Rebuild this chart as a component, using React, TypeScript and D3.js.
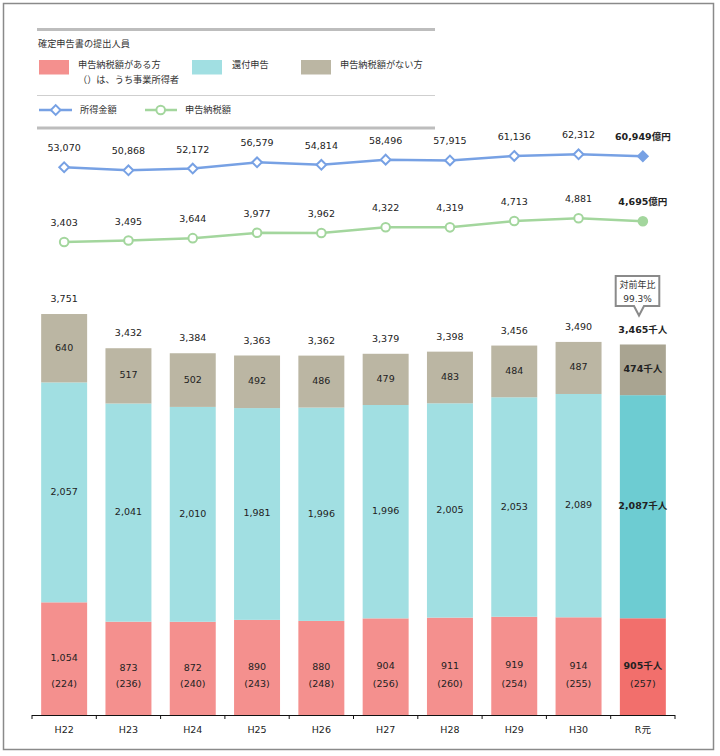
import React from 'react';
import * as d3 from 'd3';

const years = ['H22', 'H23', 'H24', 'H25', 'H26', 'H27', 'H28', 'H29', 'H30', 'R元'];
const taxPayers = [1054, 873, 872, 890, 880, 904, 911, 919, 914, 905];
const business = [224, 236, 240, 243, 248, 256, 260, 254, 255, 257];
const refund = [2057, 2041, 2010, 1981, 1996, 1996, 2005, 2053, 2089, 2087];
const noTax = [640, 517, 502, 492, 486, 479, 483, 484, 487, 474];
const totals = [3751, 3432, 3384, 3363, 3362, 3379, 3398, 3456, 3490, 3465];
const income = [53070, 50868, 52172, 56579, 54814, 58496, 57915, 61136, 62312, 60949];
const taxAmount = [3403, 3495, 3644, 3977, 3962, 4322, 4319, 4713, 4881, 4695];

const NUM = 'DejaVu Sans, Noto Sans CJK JP, sans-serif';
const JP = 'Noto Sans CJK JP, sans-serif';

const colors = {
  red: '#f4908e', redLast: '#f26f6c',
  cyan: '#a1dfe2', cyanLast: '#6dccd2',
  gray: '#bbb6a3', grayLast: '#a9a491',
  blue: '#77a1e4', green: '#a3d69d',
};

const fmt = d3.format(',');

export default function App() {
  const x = d3.scaleBand<string>().domain(years).range([32, 675]).paddingInner(0.285).paddingOuter(0.1425);
  const y = d3.scaleLinear().domain([0, 4000]).range([715, 287.4]);
  const yIncome = d3.scaleLinear().domain([45000, 65000]).range([178.6, 150.5]);
  const yTax = d3.scaleLinear().domain([3000, 5000]).range([248.5, 216.4]);
  const cx = (i: number) => (x(years[i]) as number) + x.bandwidth() / 2;
  const last = years.length - 1;

  const incomeLine = d3.line<number>().x((_, i) => cx(i)).y((d) => yIncome(d));
  const taxLine = d3.line<number>().x((_, i) => cx(i)).y((d) => yTax(d));
  const diamond = d3.symbol().type(d3.symbolDiamond2 || d3.symbolDiamond).size(60);

  const step = x.step();
  const tickXs = d3.range(years.length + 1).map((i) => 32 + i * step);

  return (
    <svg width={720} height={756} style={{ position: 'absolute', left: 0, top: 0, background: '#fff' }}>
      <rect x={0} y={0} width={720} height={756} fill="#fff" />
      <rect x={3.5} y={3.5} width={710} height={746} fill="none" stroke="#8a8a8a" strokeWidth={1.5} />

      {/* Legend */}
      <line x1={37} x2={435} y1={29.5} y2={29.5} stroke="#bdbdbd" strokeWidth={3} />
      <text x={38} y={44} fontFamily={JP} fontSize={9.2} fill="#333" dominantBaseline="middle">確定申告書の提出人員</text>
      <rect x={39} y={60} width={30} height={14.5} fill={colors.red} />
      <text x={78} y={65.5} fontFamily={JP} fontSize={9.2} fill="#333" dominantBaseline="middle">申告納税額がある方</text>
      <text x={78} y={80.5} fontFamily={JP} fontSize={9.2} fill="#333" dominantBaseline="middle">（）は、うち事業所得者</text>
      <rect x={192} y={60} width={30} height={14.5} fill={colors.cyan} />
      <text x={232} y={65.5} fontFamily={JP} fontSize={9.2} fill="#333" dominantBaseline="middle">還付申告</text>
      <rect x={301} y={60} width={30} height={14.5} fill={colors.gray} />
      <text x={340} y={65.5} fontFamily={JP} fontSize={9.2} fill="#333" dominantBaseline="middle">申告納税額がない方</text>
      <line x1={37} x2={435} y1={95.5} y2={95.5} stroke="#cfcfcf" strokeWidth={1} />
      <line x1={39} x2={72} y1={110} y2={110} stroke={colors.blue} strokeWidth={2.5} />
      <path d={diamond() as string} transform="translate(55.7,110)" fill="#fff" stroke={colors.blue} strokeWidth={2} />
      <text x={80} y={110} fontFamily={JP} fontSize={9.2} fill="#333" dominantBaseline="middle">所得金額</text>
      <line x1={145} x2={177} y1={110} y2={110} stroke={colors.green} strokeWidth={2.5} />
      <circle cx={160.7} cy={110} r={4.3} fill="#fff" stroke={colors.green} strokeWidth={2} />
      <text x={185} y={110} fontFamily={JP} fontSize={9.2} fill="#333" dominantBaseline="middle">申告納税額</text>
      <line x1={37} x2={435} y1={128} y2={128} stroke="#bdbdbd" strokeWidth={3} />

      {/* Lines */}
      <path d={incomeLine(income) as string} fill="none" stroke={colors.blue} strokeWidth={2.5} />
      <path d={taxLine(taxAmount) as string} fill="none" stroke={colors.green} strokeWidth={2.5} />
      {income.map((v, i) => (
        <g key={'inc' + i}>
          <path d={diamond() as string} transform={`translate(${cx(i)},${yIncome(v)})`}
            fill={i === last ? colors.blue : '#fff'} stroke={colors.blue} strokeWidth={2} />
          <text x={cx(i)} y={yIncome(v) - 18.5} textAnchor="middle" dominantBaseline="middle"
            fontFamily={NUM} fontSize={9.5} fontWeight={i === last ? 'bold' : 'normal'} fill="#222">
            {fmt(v)}{i === last ? '億円' : ''}
          </text>
        </g>
      ))}
      {taxAmount.map((v, i) => (
        <g key={'tax' + i}>
          <circle cx={cx(i)} cy={yTax(v)} r={4.3}
            fill={i === last ? colors.green : '#fff'} stroke={colors.green} strokeWidth={2} />
          <text x={cx(i)} y={yTax(v) - 18.5} textAnchor="middle" dominantBaseline="middle"
            fontFamily={NUM} fontSize={9.5} fontWeight={i === last ? 'bold' : 'normal'} fill="#222">
            {fmt(v)}{i === last ? '億円' : ''}
          </text>
        </g>
      ))}

      {/* Bars */}
      {years.map((yr, i) => {
        const isLast = i === last;
        const bx = x(yr) as number;
        const bw = x.bandwidth();
        const r0 = 0, r1 = taxPayers[i];
        const c1 = r1 + refund[i];
        const g1 = c1 + noTax[i];
        const w = isLast ? 'bold' : 'normal';
        const suffix = isLast ? '千人' : '';
        return (
          <g key={yr}>
            <rect x={bx} y={y(r1)} width={bw} height={y(r0) - y(r1)} fill={isLast ? colors.redLast : colors.red} />
            <rect x={bx} y={y(c1)} width={bw} height={y(r1) - y(c1)} fill={isLast ? colors.cyanLast : colors.cyan} />
            <rect x={bx} y={y(g1)} width={bw} height={y(c1) - y(g1)} fill={isLast ? colors.grayLast : colors.gray} />
            <text x={cx(i)} y={(y(r0) + y(r1)) / 2} textAnchor="middle" dominantBaseline="middle"
              fontFamily={NUM} fontSize={9.5} fontWeight={w} fill="#222">{fmt(taxPayers[i])}{suffix}</text>
            <text x={cx(i)} y={y(0) - 31} textAnchor="middle" dominantBaseline="middle"
              fontFamily={NUM} fontSize={9.5} fill="#222">({business[i]})</text>
            <text x={cx(i)} y={(y(r1) + y(c1)) / 2} textAnchor="middle" dominantBaseline="middle"
              fontFamily={NUM} fontSize={9.5} fontWeight={w} fill="#222">{fmt(refund[i])}{suffix}</text>
            <text x={cx(i)} y={(y(c1) + y(g1)) / 2} textAnchor="middle" dominantBaseline="middle"
              fontFamily={NUM} fontSize={9.5} fontWeight={w} fill="#222">{fmt(noTax[i])}{suffix}</text>
            <text x={cx(i)} y={y(totals[i]) - 14.3} textAnchor="middle" dominantBaseline="middle"
              fontFamily={NUM} fontSize={9.5} fontWeight={w} fill="#222">{fmt(totals[i])}{suffix}</text>
          </g>
        );
      })}

      {/* Callout */}
      <path d={`M615.7,276 H659.3 V306 H644 L639,315.5 L634,306 H615.7 Z`} fill="#fff" stroke="#8a8a8a" strokeWidth={2} />
      <text x={637.5} y={285.5} textAnchor="middle" dominantBaseline="middle" fontFamily={JP} fontSize={9} fill="#333">対前年比</text>
      <text x={637.5} y={299} textAnchor="middle" dominantBaseline="middle" fontFamily={NUM} fontSize={9} fill="#333">99.3%</text>

      {/* Axis */}
      <line x1={32} x2={675} y1={715.5} y2={715.5} stroke="#111" strokeWidth={1} />
      {tickXs.map((tx, i) => (
        <line key={'t' + i} x1={tx} x2={tx} y1={715} y2={719} stroke="#111" strokeWidth={1} />
      ))}
      {years.map((yr, i) => (
        <text key={'l' + yr} x={cx(i)} y={730} textAnchor="middle" dominantBaseline="middle"
          fontFamily={NUM} fontSize={9.5} fill="#222">{yr}</text>
      ))}
    </svg>
  );
}
